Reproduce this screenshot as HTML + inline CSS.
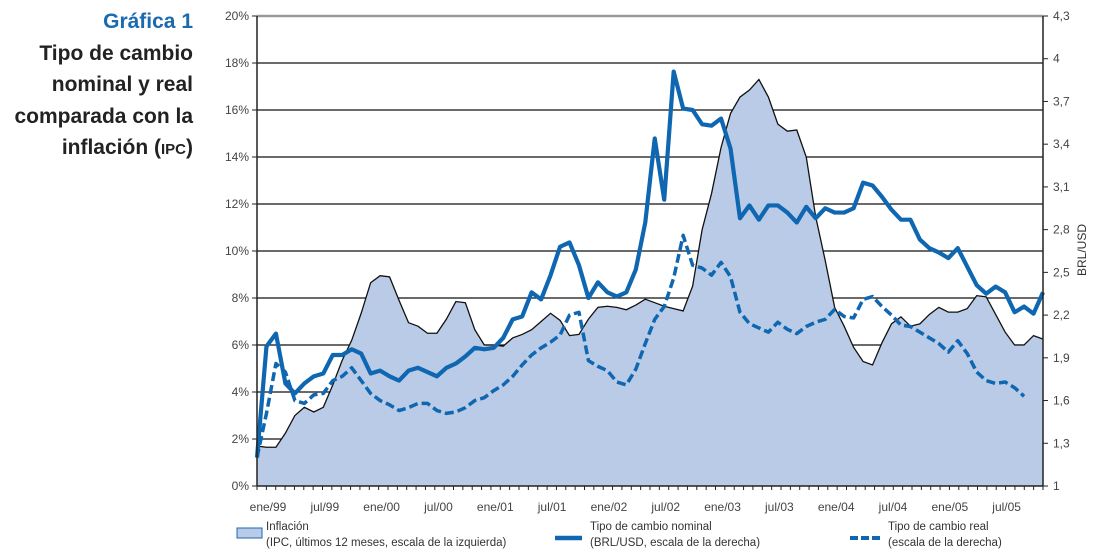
<!DOCTYPE html>
<html><head><meta charset="utf-8">
<style>
body{margin:0;background:#fff;width:1093px;height:559px;overflow:hidden;font-family:"Liberation Sans",sans-serif;}
#title{position:absolute;right:900px;top:6px;text-align:right;font-weight:bold;font-size:21px;line-height:31.5px;color:#222;white-space:nowrap;}
#title .h{color:#1a6aaf;}
svg{position:absolute;left:0;top:0;}
</style></head><body>
<div id="title"><div class="h">Gráfica 1</div>Tipo de cambio<br>nominal y real<br>comparada con la<br>inflación (<span style="font-size:15px">IPC</span>)</div>
<svg id="chart" width="1093" height="559"></svg>
<script>
const monthLabels=["ene/99","jul/99","ene/00","jul/00","ene/01","jul/01","ene/02","jul/02","ene/03","jul/03","ene/04","jul/04","ene/05","jul/05"];
const leftTicks=[0,2,4,6,8,10,12,14,16,18,20];
const rightTicks=["1","1,3","1,6","1,9","2,2","2,5","2,8","3,1","3,4","3,7","4","4,3"];
const inflation=[1.7,1.65,1.65,2.25,3.0,3.35,3.15,3.35,4.3,5.35,6.2,7.35,8.65,8.95,8.9,7.9,6.95,6.8,6.5,6.5,7.1,7.85,7.8,6.65,6.0,6.0,5.95,6.3,6.45,6.65,7.0,7.35,7.05,6.4,6.45,7.1,7.6,7.65,7.6,7.5,7.7,7.95,7.8,7.65,7.55,7.45,8.5,10.9,12.45,14.4,15.85,16.55,16.85,17.3,16.55,15.4,15.1,15.15,14.0,11.45,9.6,7.6,6.8,5.9,5.3,5.15,6.1,6.9,7.2,6.8,6.9,7.3,7.6,7.4,7.4,7.55,8.1,8.05,7.3,6.55,6.0,6.0,6.4,6.25];
const nominal=[1.2,1.98,2.07,1.72,1.65,1.72,1.77,1.79,1.92,1.92,1.96,1.93,1.79,1.81,1.77,1.74,1.81,1.83,1.80,1.77,1.83,1.86,1.91,1.97,1.96,1.97,2.04,2.17,2.19,2.36,2.31,2.48,2.68,2.71,2.55,2.32,2.43,2.36,2.33,2.36,2.52,2.85,3.44,3.01,3.91,3.65,3.64,3.54,3.53,3.58,3.37,2.88,2.97,2.87,2.97,2.97,2.92,2.85,2.96,2.88,2.95,2.92,2.92,2.95,3.13,3.11,3.03,2.94,2.87,2.87,2.73,2.67,2.64,2.60,2.67,2.54,2.41,2.35,2.40,2.36,2.22,2.26,2.21,2.36];
const real=[1.2,1.51,1.86,1.80,1.60,1.58,1.64,1.65,1.74,1.77,1.83,1.74,1.65,1.60,1.57,1.53,1.55,1.58,1.58,1.53,1.51,1.52,1.55,1.60,1.62,1.67,1.71,1.77,1.85,1.92,1.97,2.01,2.06,2.20,2.22,1.88,1.84,1.81,1.73,1.71,1.82,2.0,2.17,2.26,2.46,2.76,2.55,2.53,2.48,2.57,2.47,2.22,2.14,2.11,2.08,2.15,2.10,2.07,2.12,2.15,2.17,2.24,2.19,2.18,2.31,2.33,2.26,2.20,2.13,2.12,2.08,2.04,2.0,1.94,2.02,1.93,1.80,1.74,1.72,1.73,1.69,1.63];

const X0=257,X1=1043,Y0=486,Y1=16,N=84;
const x=i=>X0+i*(X1-X0)/(N-1);
const yL=v=>Y0-(v/20)*(Y0-Y1);
const yR=v=>Y0-((v-1)/3.3)*(Y0-Y1);
const NS="http://www.w3.org/2000/svg";
const svg=document.getElementById('chart');
function mk(tag,attrs,parent){const e=document.createElementNS(NS,tag);for(const k in attrs)e.setAttribute(k,attrs[k]);(parent||svg).appendChild(e);return e;}
const BLUE="#0f67b1";

leftTicks.forEach(v=>{
 if(v>0&&v<20){const g=mk('line',{x1:X0,x2:X1,y1:yL(v),y2:yL(v),stroke:'#111','stroke-width':1.2});
 
 }
 const t=mk('line',{x1:X0-5,x2:X0,y1:yL(v),y2:yL(v),stroke:'#222'});
 
 
 const l=mk('text',{x:249,y:yL(v)+4,'text-anchor':'end','font-size':12,fill:'#444'});
 l.textContent=v+'%';
 
 
});
let d='M'+x(0)+','+Y0;
inflation.forEach((v,i)=>{d+=' L'+x(i)+','+yL(v);});
d+=' L'+x(N-1)+','+Y0+' Z';
const area=mk('path',{d:d,fill:'#b9cbe6',stroke:'none'});


const aline=mk('polyline',{points:inflation.map((v,i)=>x(i)+','+yL(v)).join(' '),fill:'none',stroke:'#111','stroke-width':1.3});


const rl=mk('polyline',{points:real.map((v,i)=>x(i)+','+yR(v)).join(' '),fill:'none',stroke:BLUE,'stroke-width':3.5,'stroke-dasharray':'9,4','stroke-linejoin':'round'});


const nl=mk('polyline',{points:nominal.map((v,i)=>x(i)+','+yR(v)).join(' '),fill:'none',stroke:BLUE,'stroke-width':4.2,'stroke-linejoin':'round'});


const topBorder=mk('line',{x1:X0,x2:X1,y1:Y1,y2:Y1,stroke:'#999','stroke-width':2.5});


const la=mk('line',{x1:X0,x2:X0,y1:Y1,y2:Y0,stroke:'#222','stroke-width':1.5});


const ra=mk('line',{x1:X1,x2:X1,y1:Y1,y2:Y0,stroke:'#222','stroke-width':1.5});


const xa=mk('line',{x1:X0,x2:X1,y1:Y0,y2:Y0,stroke:'#222','stroke-width':1.5});


rightTicks.forEach((s,k)=>{
 const v=1+0.3*k;
 const t=mk('line',{x1:X1,x2:X1+5,y1:yR(v),y2:yR(v),stroke:'#222'});
 
 
 const l=mk('text',{x:1053,y:yR(v)+4,'font-size':12,fill:'#444'});
 l.textContent=s;
 
 
});
const yt=mk('text',{x:1086,y:250,'font-size':12,fill:'#333','text-anchor':'middle',transform:'rotate(-90 1086 250)'});
yt.textContent='BRL/USD';


for(let i=0;i<=N;i++){
 const xx=X0+i*(X1-X0)/N;
 const t=mk('line',{x1:xx,x2:xx,y1:Y0,y2:Y0+4,stroke:'#222'});
 
 
}
monthLabels.forEach((s,k)=>{
 const l=mk('text',{x:x(k*6)+11,y:511,'font-size':12,fill:'#444','text-anchor':'middle'});
 l.textContent=s;
 
 
});
function legText(x0,lines,name){
 const t=mk('text',{x:x0,y:530,'font-size':11.5,fill:'#333'});
 
 
 lines.forEach((s,i)=>{const ts=mk('tspan',{x:x0,dy:i?16:0},t);ts.textContent=s;});
}
const sw=mk('rect',{x:237,y:528,width:25,height:10,fill:'#b9cbe6',stroke:'#1a6aaf','stroke-width':1});


legText(266,['Inflación','(IPC, últimos 12 meses, escala de la izquierda)'],'legend-inflation');
const sn=mk('line',{x1:555,x2:582,y1:538,y2:538,stroke:BLUE,'stroke-width':4.5});


legText(590,['Tipo de cambio nominal','(BRL/USD, escala de la derecha)'],'legend-nominal');
const sr=mk('line',{x1:850,x2:880,y1:538,y2:538,stroke:BLUE,'stroke-width':4,'stroke-dasharray':'8,3'});


legText(888,['Tipo de cambio real','(escala de la derecha)'],'legend-real');
</script>
</body></html>
